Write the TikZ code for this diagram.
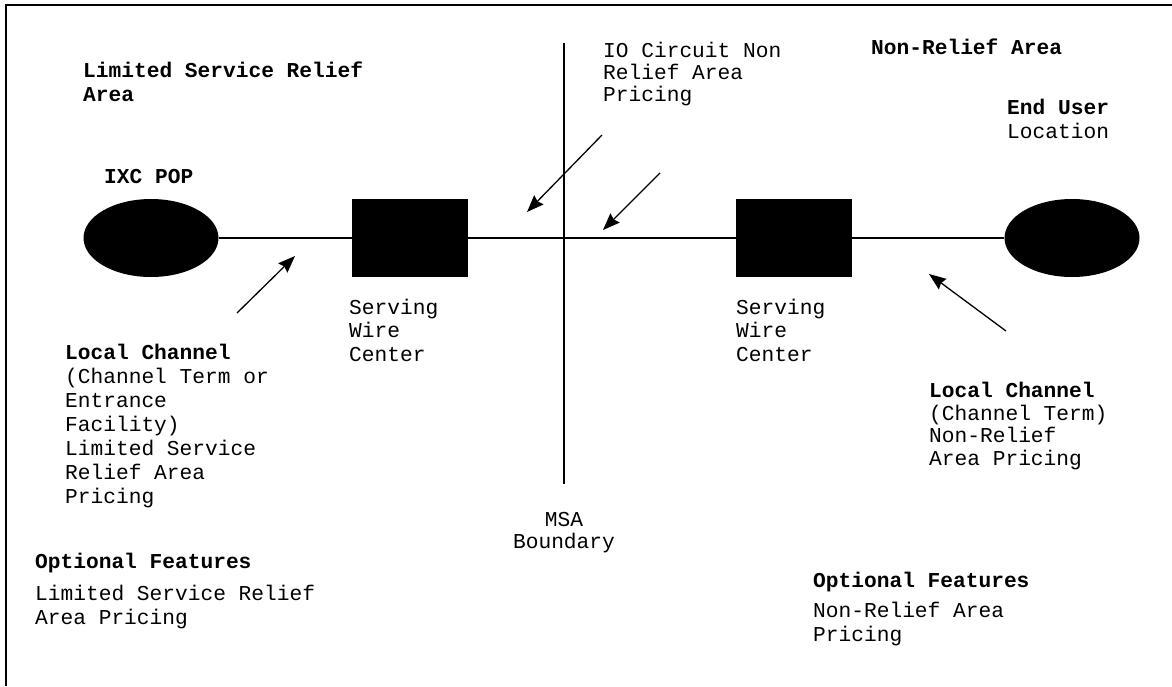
\documentclass[tikz,border=0pt]{standalone}
\usepackage{fontspec}
\setmainfont{Liberation Mono}
\usetikzlibrary{arrows.meta, shapes.geometric}
\begin{document}
\begin{tikzpicture}[
    x=1pt, y=-1pt,
    txt/.style={anchor=base west, inner sep=0pt, align=left, font=\fontsize{21.2}{23.5}\selectfont},
    site/.style={ellipse, fill=black, minimum width=135pt, minimum height=78pt, inner sep=0pt},
    office/.style={rectangle, fill=black, minimum width=116pt, minimum height=78pt, inner sep=0pt},
    pointer/.style={-{Stealth[length=17pt, width=13pt, inset=2pt]}, line width=1.3pt}
]
\useasboundingbox (0,0) rectangle (1172,686);

% Frame
\draw[line width=1.5pt] (6,686) -- (6,5) -- (1172,5);

% Sites and wire centers
\node[site] (pop) at (151,238) {};
\node[office] (swcL) at (410,238) {};
\node[office] (swcR) at (794,238) {};
\node[site] (user) at (1072,238) {};

% Circuit
\draw[line width=1.5pt] (pop) -- (swcL) -- (swcR) -- (user);

% MSA boundary
\coordinate (msaTop) at (564,43);
\coordinate (msaBot) at (564,484);
\draw[line width=1.8pt] (msaTop) -- (msaBot);

% Labels (anchored at the baseline of the last line)
\node[txt] (areaL) at (83,101) {\textbf{Limited Service Relief}\\\textbf{Area}};
\node[txt] (popL) at (104,183) {\textbf{IXC POP}};
\node[txt, font=\fontsize{21.2}{22}\selectfont] (ioL) at (603,101) {IO Circuit Non\\Relief Area\\Pricing};
\node[txt] (areaR) at (871,54) {\textbf{Non-Relief Area}};
\node[txt] (userL) at (1007,138) {\textbf{End User}\\Location};
\node[txt] (swcLL) at (349,361) {Serving\\Wire\\Center};
\node[txt] (swcRL) at (736,361) {Serving\\Wire\\Center};
\node[txt, font=\fontsize{21.2}{24}\selectfont] (lcL) at (65,503) {\textbf{Local Channel}\\(Channel Term or\\Entrance\\Facility)\\Limited Service\\Relief Area\\Pricing};
\node[txt, font=\fontsize{21.2}{22.5}\selectfont] (lcR) at (929,465) {\textbf{Local Channel}\\(Channel Term)\\Non-Relief\\Area Pricing};
\node[txt, anchor=base, align=center, font=\fontsize{21.2}{21.5}\selectfont] (msaL) at (564,548) {MSA\\Boundary};
\node[txt] (optL) at (35,624) {\textbf{Optional Features}\\[8.5pt]Limited Service Relief\\Area Pricing};
\node[txt] (optR) at (813,641) {\textbf{Optional Features}\\[6.5pt]Non-Relief Area\\Pricing};

% Pointers
\coordinate (ioA) at (602,135);
\coordinate (ioB) at (660,173);
\coordinate (lcLA) at (237,313);
\coordinate (lcRA) at (1006,331);
\coordinate (ioAtip) at (527,212);
\coordinate (ioBtip) at (603,230);
\coordinate (lcLtip) at (295,256);
\coordinate (lcRtip) at (929,274);
\draw[pointer] (ioA) -- (ioAtip);
\draw[pointer] (ioB) -- (ioBtip);
\draw[pointer] (lcLA) -- (lcLtip);
\draw[pointer] (lcRA) -- (lcRtip);

\end{tikzpicture}
\end{document}
